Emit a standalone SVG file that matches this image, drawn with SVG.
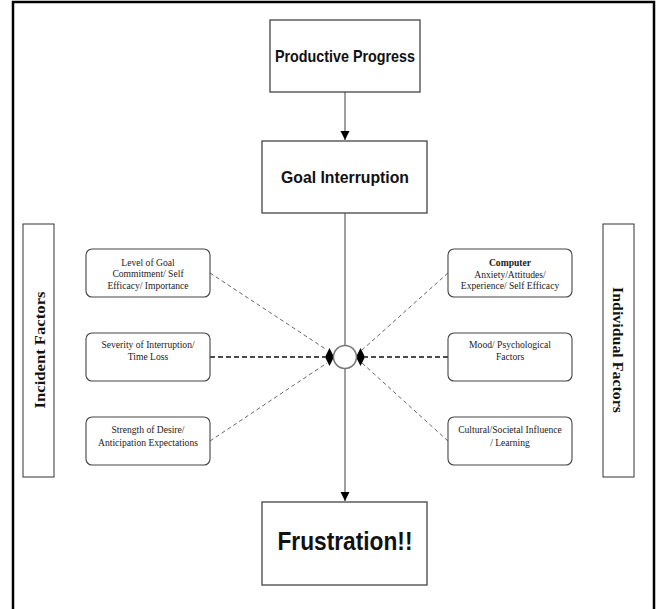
<svg xmlns="http://www.w3.org/2000/svg" width="657" height="609" viewBox="0 0 657 609">
<style>
.frame{fill:none;stroke:#000;stroke-width:2.5}
.main{fill:#fff;stroke:#444;stroke-width:1.3}
.side{fill:#fff;stroke:#333;stroke-width:1}
.fac{fill:#fff;stroke:#444;stroke-width:1.1}
.big{font-family:"Liberation Sans",Arial,sans-serif;font-weight:bold;fill:#111;text-anchor:middle}
.sm{font-family:"Liberation Serif","Times New Roman",serif;font-size:9.6px;fill:#222;text-anchor:middle}
.vt{font-family:"Liberation Serif","Times New Roman",serif;font-size:15px;font-weight:bold;fill:#111;text-anchor:middle}
.flow{stroke:#888;stroke-width:1.6;fill:none}
.dd{stroke:#666;stroke-width:1;stroke-dasharray:4 3;fill:none}
.dh{stroke:#111;stroke-width:1.3;stroke-dasharray:5 3;fill:none}
</style>
<defs>
<marker id="arr" markerWidth="10" markerHeight="10" refX="9" refY="5" orient="auto" markerUnits="userSpaceOnUse">
<path d="M0,0.5 L9,5 L0,9.5 Z" fill="#000"/>
</marker>
</defs>
<rect class="frame" x="13" y="2" width="641" height="640"/>
<g id="connectors">
<line class="flow" x1="345" y1="92" x2="345" y2="140" marker-end="url(#arr)"/>
<line class="flow" x1="345" y1="213" x2="345" y2="345"/>
<line class="flow" x1="345" y1="369" x2="345" y2="501" marker-end="url(#arr)"/>
<line class="dd" x1="210" y1="273" x2="327" y2="350"/>
<line class="dh" x1="210" y1="357" x2="325" y2="357"/>
<line class="dd" x1="210" y1="441" x2="327" y2="363"/>
<line class="dd" x1="448" y1="273" x2="362" y2="350"/>
<line class="dh" x1="448" y1="357" x2="365" y2="357"/>
<line class="dd" x1="448" y1="441" x2="362" y2="363"/>
<path d="M329.5,348 L334,357 L329.5,366 L325,357 Z" fill="#000"/>
<path d="M360.5,348 L365,357 L360.5,366 L356,357 Z" fill="#000"/>
</g>
<g id="junction">
<circle cx="345" cy="357" r="11.5" fill="#fff" stroke="#777" stroke-width="1.5"/>
</g>
<g id="productive">
<rect class="main" x="270" y="20" width="150" height="72"/>
<text class="big" x="345" y="62" font-size="17" textLength="140" lengthAdjust="spacingAndGlyphs">Productive Progress</text>
</g>
<g id="goal">
<rect class="main" x="262" y="141" width="165" height="72"/>
<text class="big" x="345" y="183" font-size="17" textLength="128" lengthAdjust="spacingAndGlyphs">Goal Interruption</text>
</g>
<g id="frustration">
<rect class="main" x="262" y="502" width="165" height="83"/>
<text class="big" x="345" y="550" font-size="25" textLength="135" lengthAdjust="spacingAndGlyphs">Frustration!!</text>
</g>
<g id="incident">
<rect class="side" x="23" y="224" width="31" height="253"/>
<text class="vt" transform="translate(45,350) rotate(-90)" textLength="117" lengthAdjust="spacingAndGlyphs">Incident  Factors</text>
</g>
<g id="individual">
<rect class="side" x="603" y="224" width="31" height="253"/>
<text class="vt" transform="translate(613,350) rotate(90)" textLength="126" lengthAdjust="spacingAndGlyphs">Individual Factors</text>
</g>
<g id="level">
<rect class="fac" x="86" y="249" width="124" height="48" rx="6"/>
<text class="sm" x="148" y="265.5">Level of Goal</text>
<text class="sm" x="148" y="277">Commitment/ Self</text>
<text class="sm" x="148" y="288.5">Efficacy/ Importance</text>
</g>
<g id="severity">
<rect class="fac" x="86" y="333" width="124" height="48" rx="6"/>
<text class="sm" x="148" y="348">Severity of Interruption/</text>
<text class="sm" x="148" y="360">Time Loss</text>
</g>
<g id="strength">
<rect class="fac" x="86" y="417" width="124" height="48" rx="6"/>
<text class="sm" x="148" y="433">Strength of Desire/</text>
<text class="sm" x="148" y="446">Anticipation Expectations</text>
</g>
<g id="computer">
<rect class="fac" x="448" y="249" width="124" height="48" rx="6"/>
<text class="sm" x="510" y="266" font-weight="bold">Computer</text>
<text class="sm" x="510" y="277.5">Anxiety/Attitudes/</text>
<text class="sm" x="510" y="289">Experience/ Self Efficacy</text>
</g>
<g id="mood">
<rect class="fac" x="448" y="333" width="124" height="48" rx="6"/>
<text class="sm" x="510" y="348">Mood/ Psychological</text>
<text class="sm" x="510" y="360">Factors</text>
</g>
<g id="cultural">
<rect class="fac" x="448" y="417" width="124" height="48" rx="6"/>
<text class="sm" x="510" y="433">Cultural/Societal Influence</text>
<text class="sm" x="510" y="446">/ Learning</text>
</g>
</svg>
